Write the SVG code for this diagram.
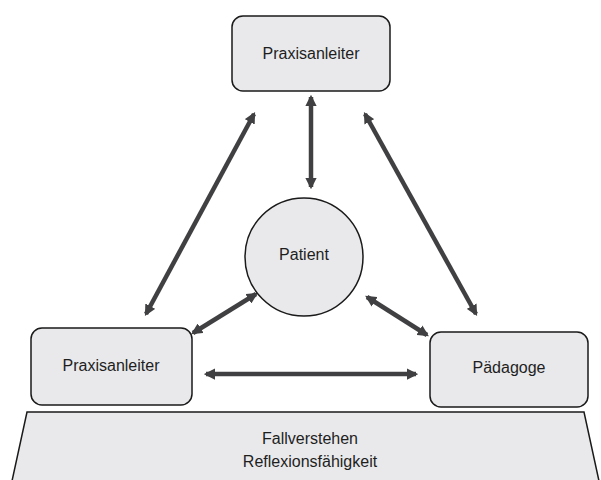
<svg xmlns="http://www.w3.org/2000/svg" width="601" height="480" viewBox="0 0 601 480">
<defs>
<style>
.box{fill:#e9e9eb;stroke:#1a1a1a;stroke-width:1.5}
.lbl{font-family:"Liberation Sans",Arial,sans-serif;font-size:16px;fill:#1e1e1e;text-anchor:middle}
.arr{stroke:#404042;stroke-width:4.5;fill:none;marker-start:url(#ah);marker-end:url(#ah)}
</style>
<marker id="ah" viewBox="0 0 10 10" refX="8" refY="5" markerWidth="2.5" markerHeight="2.5" orient="auto-start-reverse" markerUnits="strokeWidth">
<path d="M0,0 L10,5 L0,10 z" fill="#404042"/>
</marker>
</defs>
<rect width="601" height="480" fill="#ffffff"/>
<g id="basis">
<path class="box" d="M27,412 L584,412 L599,481 L12,481 Z"/>
<text class="lbl" x="310" y="444">Fallverstehen</text>
<text class="lbl" x="310" y="467">Reflexionsfähigkeit</text>
</g>
<g id="connectors">
<line class="arr" x1="311" y1="97" x2="311" y2="187"/>
<line class="arr" x1="254" y1="114" x2="146" y2="314"/>
<line class="arr" x1="365" y1="114" x2="476" y2="314"/>
<line class="arr" x1="193" y1="333" x2="256" y2="294"/>
<line class="arr" x1="367" y1="297" x2="427" y2="335"/>
<line class="arr" x1="206" y1="374" x2="416" y2="374"/>
</g>
<g id="praxisanleiter-oben">
<rect class="box" x="232" y="16" width="158" height="75" rx="11"/>
<text class="lbl" x="311" y="59">Praxisanleiter</text>
</g>
<g id="patient">
<circle class="box" cx="304" cy="257" r="59"/>
<text class="lbl" x="304" y="260">Patient</text>
</g>
<g id="praxisanleiter-links">
<rect class="box" x="31" y="328" width="161" height="77" rx="11"/>
<text class="lbl" x="111" y="371">Praxisanleiter</text>
</g>
<g id="paedagoge">
<rect class="box" x="430" y="332" width="158" height="75" rx="11"/>
<text class="lbl" x="509" y="373">Pädagoge</text>
</g>
</svg>
